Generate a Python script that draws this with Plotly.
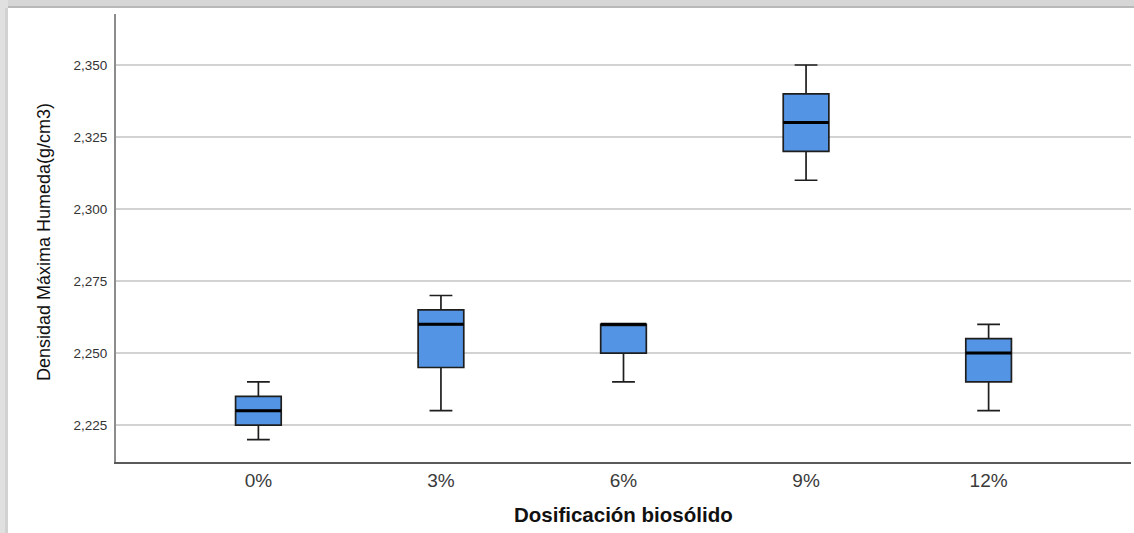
import plotly.graph_objects as go

# Dosificación de biosólido y estadísticos de la densidad máxima húmeda (g/cm3)
categorias = ["0%", "3%", "6%", "9%", "12%"]
minimo = [2.220, 2.230, 2.240, 2.310, 2.230]
q1 = [2.225, 2.245, 2.250, 2.320, 2.240]
mediana = [2.230, 2.260, 2.260, 2.330, 2.250]
q3 = [2.235, 2.265, 2.260, 2.340, 2.255]
maximo = [2.240, 2.270, 2.260, 2.350, 2.260]

y_ticks = [2.225, 2.250, 2.275, 2.300, 2.325, 2.350]
y_tick_labels = ["2,225", "2,250", "2,275", "2,300", "2,325", "2,350"]

W, H = 1134, 533
M_L, M_R, M_T, M_B = 116, 3, 14, 71
PW, PH = W - M_L - M_R, H - M_T - M_B

BOX_W = 0.25
pos = list(range(len(categorias)))

fig = go.Figure()

fig.add_trace(go.Box(
    x=pos,
    q1=q1,
    median=mediana,
    q3=q3,
    lowerfence=minimo,
    upperfence=maximo,
    width=BOX_W,
    whiskerwidth=0.5,
    fillcolor="#5494e4",
    line=dict(color="#1e1e1e", width=1.7),
    boxpoints=False,
    hoverinfo="skip",
    showlegend=False,
))

# Línea de la mediana más gruesa, como en el estilo SPSS
med_x, med_y = [], []
for p, m in zip(pos, mediana):
    med_x += [p - BOX_W / 2, p + BOX_W / 2, None]
    med_y += [m, m, None]
fig.add_trace(go.Scatter(
    x=med_x, y=med_y, mode="lines",
    line=dict(color="#000000", width=3),
    hoverinfo="skip", showlegend=False,
))


def px_x(px):
    return (px - M_L) / PW


def px_y(py):
    return (H - M_B - py) / PH


# Marco gris del fondo (sombra superior e izquierda)
shapes = [
    dict(type="rect", xref="paper", yref="paper", layer="below",
         x0=px_x(0), x1=px_x(W), y0=px_y(0), y1=px_y(8),
         fillcolor="#d6d6d6", line_width=0),
    dict(type="rect", xref="paper", yref="paper", layer="below",
         x0=px_x(8), x1=px_x(W), y0=px_y(6), y1=px_y(8),
         fillcolor="#b8b8b8", line_width=0),
    dict(type="rect", xref="paper", yref="paper", layer="below",
         x0=px_x(0), x1=px_x(8), y0=px_y(0), y1=px_y(H),
         fillcolor="#e0e0e0", line_width=0),
    dict(type="rect", xref="paper", yref="paper", layer="below",
         x0=px_x(5), x1=px_x(8), y0=px_y(8), y1=px_y(H),
         fillcolor="#d2d2d2", line_width=0),
]

fig.update_layout(
    width=W, height=H,
    margin=dict(l=M_L, r=M_R, t=M_T, b=M_B),
    paper_bgcolor="white",
    plot_bgcolor="white",
    font=dict(family="Liberation Sans, Arial, sans-serif", color="#333333"),
    shapes=shapes,
    xaxis=dict(
        range=[-0.78, 4.78],
        tickmode="array", tickvals=pos, ticktext=categorias,
        tickfont=dict(size=19, color="#3a3a3a"),
        showgrid=False, zeroline=False,
        showline=True, linecolor="#5a5a5a", linewidth=1.5,
        ticks="",
    ),
    yaxis=dict(
        range=[2.2122, 2.3677],
        tickmode="array", tickvals=y_ticks, ticktext=y_tick_labels,
        tickfont=dict(size=13.5, color="#333333"),
        showgrid=True, gridcolor="#d2d2d2", gridwidth=1.5,
        zeroline=False,
        showline=True, linecolor="#8c8c8c", linewidth=2,
        ticks="", ticklabelstandoff=4,
    ),
    annotations=[
        dict(text="<b>Dosificación biosólido</b>", xref="paper", yref="paper",
             x=0.5, y=px_y(514), xanchor="center", yanchor="middle",
             showarrow=False, font=dict(size=20.5, color="#111111")),
        dict(text="Densidad Máxima Humeda(g/cm3)", xref="paper", yref="paper",
             x=px_x(44), y=px_y(242), xanchor="center", yanchor="middle",
             textangle=-90, showarrow=False,
             font=dict(size=18, color="#111111")),
    ],
)

fig.write_html("out.html")
